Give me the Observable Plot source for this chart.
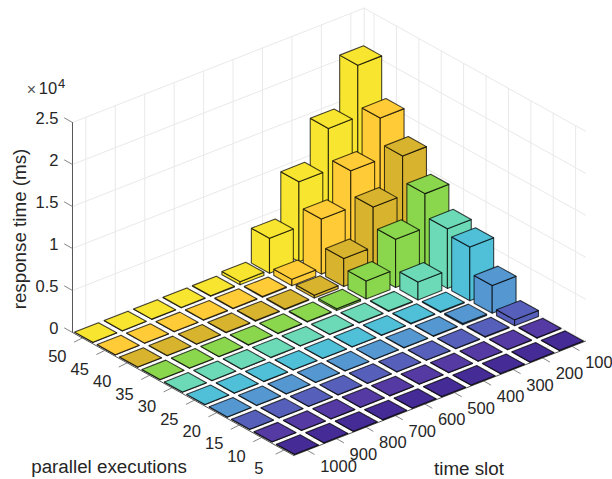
<!DOCTYPE html>
<html>
<head>
<meta charset="utf-8">
<style>html,body{margin:0;padding:0;background:#fff}svg{display:block}</style>
<script src="https://cdn.jsdelivr.net/npm/d3@7"></script>
<script src="https://cdn.jsdelivr.net/npm/@observablehq/plot@0.6"></script>
</head>
<body>
<script>
const timeSlots = [100,200,300,400,500,600,700,800,900,1000];
const execs = [5,10,15,20,25,30,35,40,45,50];
const response5  = [40,30,30,30,30,30,30,30,30,30];
const response10 = [60,40,30,30,30,30,30,30,30,30];
const response15 = [700,80,40,30,30,30,30,30,30,30];
const response20 = [3300,150,60,40,30,30,30,30,30,30];
const response25 = [6400,100,80,50,30,30,30,30,30,30];
const response30 = [7100,2130,80,60,40,30,30,30,30,30];
const response35 = [9800,5740,2150,220,80,50,40,30,30,30];
const response40 = [12800,8100,3340,350,90,70,50,30,30,30];
const response45 = [15840,10920,6550,750,90,70,50,30,30,30];
const response50 = [20640,14490,9510,4150,370,70,50,30,30,30];
const responses = [response5,response10,response15,response20,response25,response30,response35,response40,response45,response50];
const execColors = ["#452B96","#543AA2","#5660BA","#5497D1","#4FC0D8","#6CD9B7","#8AD64D","#D8B32E","#FFCB37","#F8E52F"];
const zTicks = [0,5000,10000,15000,20000,25000];
const zTickLabels = ["0","0.5","1","1.5","2","2.5"];

// Orthographic view of the 3-D box: exec index e, time index t, value z
const E0 = -0.44, E1 = 9.44, T0 = -0.454, T1 = 9.454, HW = 0.405;
const P = (e, t, z = 0) => [
  293.3 + (e - E0) * -22.4 + (T1 - t) * 29.44,
  455 + (e - E0) * -12.45 + (T1 - t) * -11.54 - z * 0.0084
];

const faces = [];
let fid = 0;
function face(exec, pts) {
  const id = "f" + fid++;
  [...pts, pts[0]].forEach(p => faces.push({id, exec, x: p[0], y: p[1]}));
}
for (let e = 9; e >= 0; e--) {
  for (let t = 0; t < 10; t++) {
    const v = responses[e][t], ex = execs[e];
    const a = e - HW, b = e + HW, c = t - HW, d = t + HW;
    face(ex, [P(a,d,0),P(b,d,0),P(b,d,v),P(a,d,v)]);
    face(ex, [P(a,c,0),P(a,d,0),P(a,d,v),P(a,c,v)]);
    face(ex, [P(a,c,v),P(a,d,v),P(b,d,v),P(b,c,v)]);
  }
}

const seg = (list, a, b) => { const id = list.length; list.push({id, x: a[0], y: a[1]}, {id, x: b[0], y: b[1]}); };
const grid = [], axes = [], ticks = [];
for (const z of zTicks) { seg(grid, P(E1,T1,z), P(E1,T0,z)); seg(grid, P(E1,T0,z), P(E0,T0,z)); }
for (let t = 0; t < 10; t++) { seg(grid, P(E1,t,0), P(E1,t,25000)); seg(grid, P(E1,t,0), P(E0,t,0)); }
for (let e = 0; e < 10; e++) { seg(grid, P(e,T0,0), P(e,T0,25000)); seg(grid, P(e,T0,0), P(e,T1,0)); }
seg(grid, P(E1,T0,0), P(E1,T0,25000));

seg(axes, P(E1,T1,0), P(E1,T1,25000));
seg(axes, P(E1,T1,0), P(E0,T1,0));
seg(axes, P(E0,T1,0), P(E0,T0,0));
for (const z of zTicks) { const p = P(E1,T1,z); seg(ticks, p, [p[0]-8, p[1]-4.5]); }
for (let e = 0; e < 10; e++) { const p = P(e,T1,0); seg(ticks, p, [p[0]-8, p[1]+4]); }
for (let t = 0; t < 10; t++) { const p = P(E0,t,0); seg(ticks, p, [p[0]+7, p[1]+4]); }

const zLabels = zTicks.map((z,i) => { const p = P(E1,T1,z); return {x: p[0]-14, y: p[1]-4, text: zTickLabels[i]}; });
const eLabels = execs.map((v,e) => { const p = P(e,T1,0); return {x: p[0]-25, y: p[1]+19, text: String(v)}; });
const tLabels = timeSlots.map((v,t) => { const p = P(E0,t,0); return {x: p[0]+13, y: p[1]+16, text: String(v)}; });

const font = "Liberation Sans, Arial, sans-serif", ink = "#262626";
const tickText = {fontFamily: font, fill: ink, fontSize: 16.5};
const labelText = {fontFamily: font, fill: ink, fontSize: 18.8};
const plot = Plot.plot({
  width: 612, height: 479,
  margin: 0,
  x: {domain: [0,612], range: [0,612], axis: null},
  y: {domain: [0,479], range: [0,479], axis: null},
  color: {type: "ordinal", domain: execs, range: execColors},
  marks: [
    Plot.line(grid, {x:"x", y:"y", z:"id", stroke:"#e9e9e9", strokeWidth:1}),
    Plot.line(axes, {x:"x", y:"y", z:"id", stroke:"#555", strokeWidth:1}),
    Plot.line(ticks, {x:"x", y:"y", z:"id", stroke:"#666", strokeWidth:0.8}),
    Plot.line(faces, {x:"x", y:"y", z:"id", fill:"exec", stroke:"#000", strokeOpacity:0.72, strokeWidth:1.1, strokeLinejoin:"miter"}),
    Plot.text(zLabels, {x:"x", y:"y", text:"text", textAnchor:"end", ...tickText}),
    Plot.text(eLabels, {x:"x", y:"y", text:"text", ...tickText}),
    Plot.text(tLabels, {x:"x", y:"y", text:"text", textAnchor:"start", ...tickText}),
    Plot.text(["parallel executions"], {x:()=>108.5, y:()=>466, ...labelText}),
    Plot.text(["time slot"], {x:()=>468.5, y:()=>468, ...labelText}),
    Plot.text(["response time (ms)"], {x:()=>19, y:()=>228.5, rotate:-90, ...labelText}),
    Plot.text(["×"], {x:()=>31, y:()=>89.5, fontFamily:font, fill:"#555", fontSize:16}),
    Plot.text(["10"], {x:()=>47.5, y:()=>88, ...tickText}),
    Plot.text(["4"], {x:()=>61, y:()=>83, fontFamily:font, fill:ink, fontSize:13}),
  ]
});
document.body.appendChild(plot);
</script>
</body>
</html>
